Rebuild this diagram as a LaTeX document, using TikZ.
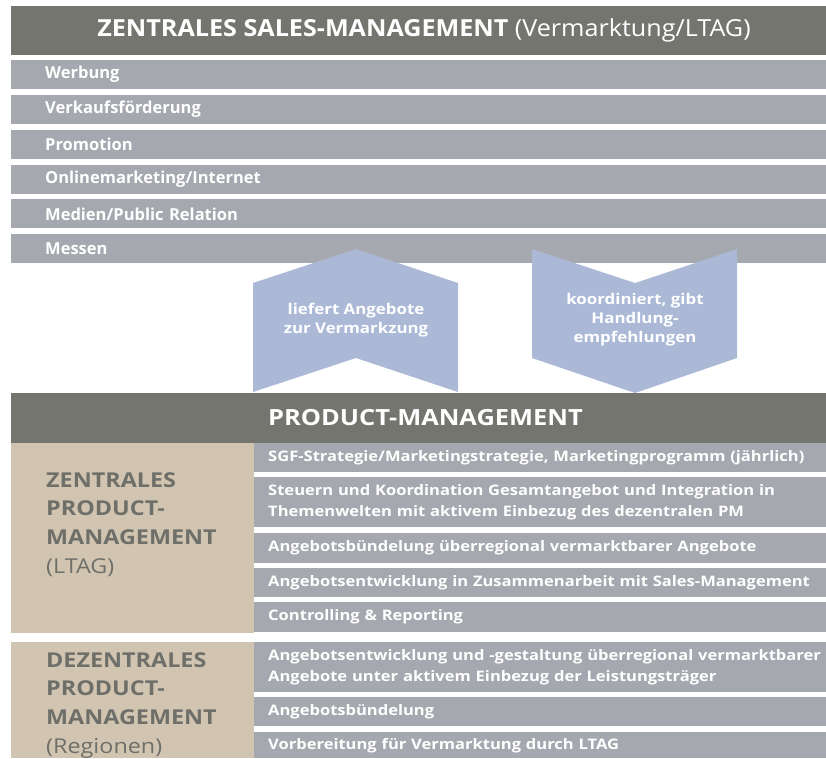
\documentclass[tikz,border=0pt]{standalone}
\usepackage{fontspec}
\setmainfont{Open Sans}
\newfontfamily\headfont[FakeStretch=1.07]{Open Sans}
\newfontfamily\widefont[FakeStretch=1.14]{Open Sans}
\usepackage{xcolor}
\usetikzlibrary{calc}
\definecolor{headgray}{HTML}{75756F}
\definecolor{bargray}{HTML}{A5A8AE}
\definecolor{arrowblue}{HTML}{ABB9D7}
\definecolor{sand}{HTML}{D1C5B1}
\definecolor{sandtext}{HTML}{6F6F6A}
\tikzstyle{headbar}=[fill=headgray, anchor=north west, inner sep=0pt, minimum width=815pt, text=white]
\tikzstyle{salesbar}=[fill=bargray, anchor=north west, minimum height=29pt, text width=747pt, inner xsep=34pt, inner ysep=0pt, align=left, text=white, font=\bfseries\fontsize{16.5}{20}\selectfont]
\tikzstyle{pmbar}=[fill=bargray, anchor=north west, text width=572pt, inner xsep=14pt, inner ysep=0pt, align=left, text=white, font=\widefont\bfseries\fontsize{14.5}{21}\selectfont]
\tikzstyle{pmside}=[fill=sand, anchor=north west, minimum width=243pt, inner sep=0pt]
\tikzstyle{sidetext}=[anchor=north west, inner sep=0pt, align=left, text=sandtext, font=\widefont\fontsize{20.5}{28.7}\selectfont]
\tikzstyle{arrowtext}=[align=center, text=white, font=\widefont\bfseries\fontsize{14.8}{19}\selectfont]

\begin{document}
\begin{tikzpicture}[x=1pt,y=-1pt]
\useasboundingbox (0,0) rectangle (826,758);
\node[headbar, minimum height=49pt] (zsmbar) at (11,6) {};
\node[inner sep=0pt, text=white, font=\headfont\fontsize{23.5}{28}\selectfont] (zsm) at (424,30) {\textbf{ZENTRALES SALES-MANAGEMENT} (Vermarktung/LTAG)};
\foreach \t [count=\i] in {Werbung, Verkaufsförderung, Promotion, Onlinemarketing/Internet, Medien/Public Relation, Messen} {
	\node[salesbar] (s\i) at (11,{60+34.8*(\i-1)}) {\t};
}
\coordinate (u1) at (253,283);
\coordinate (u2) at (356,249);
\coordinate (u3) at (458,283);
\coordinate (u4) at (458,392);
\coordinate (u5) at (356,358);
\coordinate (u6) at (253,392);
\coordinate (d1) at (532,249);
\coordinate (d2) at (635,283);
\coordinate (d3) at (737,249);
\coordinate (d4) at (737,358);
\coordinate (d5) at (635,393);
\coordinate (d6) at (532,358);
\fill[arrowblue] (u1) -- (u2) -- (u3) -- (u4) -- (u5) -- (u6) -- cycle;
\fill[arrowblue] (d1) -- (d2) -- (d3) -- (d4) -- (d5) -- (d6) -- cycle;
\node[arrowtext] (liefert) at (356,320) {liefert Angebote\\zur Vermarkzung};
\node[arrowtext] (koord) at (635,320) {koordiniert, gibt\\Handlung-\\empfehlungen};
\node[headbar, minimum height=50pt] (pmbar) at (11,393) {};
\node[anchor=west, inner sep=0pt, text=white, font=\widefont\bfseries\fontsize{22.3}{28}\selectfont] (pm) at (268,418) {PRODUCT-MANAGEMENT};
\node[pmside, minimum height=190pt] (zpm) at (11,443) {};
\node[pmside, minimum height=116pt] (dpm) at (11,642) {};
\node[sidetext] (zpmtext) at (46,472) {\textbf{ZENTRALES}\\\textbf{PRODUCT-}\\\textbf{MANAGEMENT}\\(LTAG)};
\node[sidetext] (dpmtext) at (46,652) {\textbf{DEZENTRALES}\\\textbf{PRODUCT-}\\\textbf{MANAGEMENT}\\(Regionen)};
\foreach \y/\h/\t [count=\i] in {443/29/{SGF-Strategie/Marketingstrategie, Marketingprogramm (jährlich)},
	477/50/{Steuern und Koordination Gesamtangebot und Integration in\\Themenwelten mit aktivem Einbezug des dezentralen PM},
	533/30/{Angebotsbündelung überregional vermarktbarer Angebote},
	568/29/{Angebotsentwicklung in Zusammenarbeit mit Sales-Management},
	602/30/{Controlling \& Reporting},
	642/50/{Angebotsentwicklung und -gestaltung überregional vermarktbarer\\Angebote unter aktivem Einbezug der Leistungsträger},
	697/29/{Angebotsbündelung},
	732/26/{Vorbereitung für Vermarktung durch LTAG}} {
	\node[pmbar, minimum height=\h pt] (p\i) at (254,\y) {\t};
}
\end{tikzpicture}
\end{document}
